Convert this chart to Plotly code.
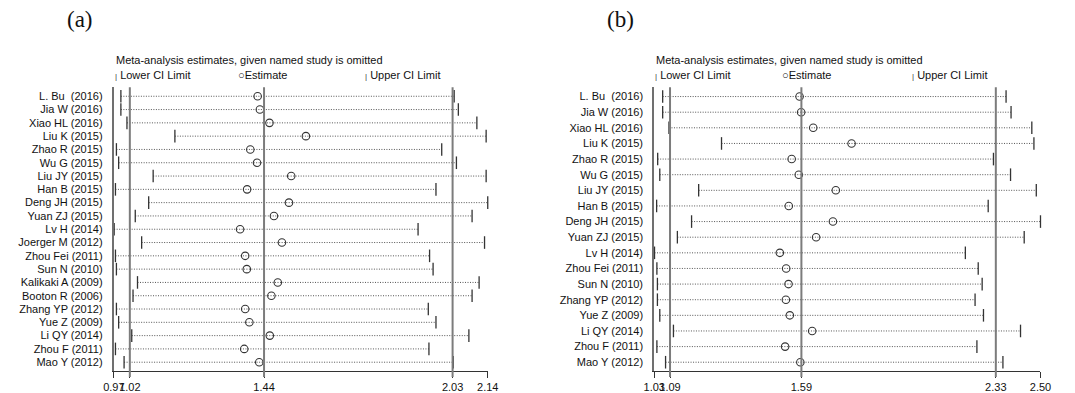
import plotly.graph_objects as go

# ---------------- data: panel (a) ----------------
studies_a = ["L. Bu  (2016)", "Jia W (2016)", "Xiao HL (2016)", "Liu K (2015)", "Zhao R (2015)",
             "Wu G (2015)", "Liu JY (2015)", "Han B (2015)", "Deng JH (2015)", "Yuan ZJ (2015)",
             "Lv H (2014)", "Joerger M (2012)", "Zhou Fei (2011)", "Sun N (2010)", "Kalikaki A (2009)",
             "Booton R (2006)", "Zhang YP (2012)", "Yue Z (2009)", "Li QY (2014)", "Zhou F (2011)",
             "Mao Y (2012)"]
lower_a = [0.992, 0.992, 1.011, 1.161, 0.978, 0.985, 1.093, 0.975, 1.079, 1.037,
           0.971, 1.057, 0.975, 0.978, 1.044, 1.030, 0.978, 0.985, 1.026, 0.975, 1.002]
est_a = [1.420, 1.427, 1.457, 1.571, 1.397, 1.418, 1.525, 1.387, 1.518, 1.471,
         1.365, 1.496, 1.381, 1.386, 1.483, 1.463, 1.381, 1.394, 1.458, 1.378, 1.425]
upper_a = [2.035, 2.048, 2.106, 2.135, 1.996, 2.042, 2.135, 1.978, 2.140, 2.091,
           1.922, 2.130, 1.958, 1.969, 2.113, 2.091, 1.954, 1.978, 2.081, 1.956, 2.032]
overall_a = [1.02, 1.44, 2.03]          # overall lower CI, estimate, upper CI
ticks_a = [0.97, 1.02, 1.44, 2.03, 2.14]
ticktext_a = ["0.97", "1.02", "1.44", "2.03", "2.14"]

# ---------------- data: panel (b) ----------------
studies_b = ["L. Bu  (2016)", "Jia W (2016)", "Xiao HL (2016)", "Liu K (2015)", "Zhao R (2015)",
             "Wu G (2015)", "Liu JY (2015)", "Han B (2015)", "Deng JH (2015)", "Yuan ZJ (2015)",
             "Lv H (2014)", "Zhou Fei (2011)", "Sun N (2010)", "Zhang YP (2012)", "Yue Z (2009)",
             "Li QY (2014)", "Zhou F (2011)", "Mao Y (2012)"]
lower_b = [1.062, 1.062, 1.086, 1.286, 1.043, 1.051, 1.199, 1.039, 1.172, 1.118,
           1.031, 1.040, 1.042, 1.042, 1.051, 1.103, 1.040, 1.073]
est_b = [1.583, 1.589, 1.635, 1.781, 1.553, 1.580, 1.721, 1.542, 1.710, 1.646,
         1.508, 1.532, 1.541, 1.531, 1.546, 1.631, 1.528, 1.586]
upper_b = [2.369, 2.388, 2.467, 2.475, 2.321, 2.386, 2.484, 2.301, 2.500, 2.438,
           2.214, 2.263, 2.278, 2.251, 2.283, 2.424, 2.258, 2.357]
overall_b = [1.09, 1.59, 2.33]
ticks_b = [1.03, 1.09, 1.59, 2.33, 2.50]
ticktext_b = ["1.03", "1.09", "1.59", "2.33", "2.50"]

W, H = 1075, 393
FONT = "Liberation Sans, Arial, sans-serif"
DOT = "#555555"
REF = "#7c7c7c"
INK = "#333333"


def px(x):
    return x / W


def py(y):
    return (H - y) / H


fig = go.Figure()


def add_panel(names, lo, est, hi, xa, ya):
    n = len(names)
    idx = list(range(n))
    segx, segy = [], []
    for i in idx:
        segx += [lo[i], hi[i], None]
        segy += [i, i, None]
    fig.add_trace(go.Scatter(x=segx, y=segy, mode="lines", xaxis=xa, yaxis=ya,
                             line=dict(color=DOT, width=1, dash="1px,1.5px"),
                             hoverinfo="skip", showlegend=False, cliponaxis=False))
    for vals in (lo, hi):
        fig.add_trace(go.Scatter(x=vals, y=idx, mode="markers", xaxis=xa, yaxis=ya,
                                 marker=dict(symbol="line-ns", size=9, color=INK,
                                             line=dict(color=INK, width=1.3)),
                                 showlegend=False, cliponaxis=False))
    fig.add_trace(go.Scatter(x=est, y=idx, mode="markers", xaxis=xa, yaxis=ya,
                             marker=dict(symbol="circle-open", size=7.5, color=INK,
                                         line=dict(color=INK, width=1.1)),
                             showlegend=False, cliponaxis=False))


add_panel(studies_a, lower_a, est_a, upper_a, "x", "y")
add_panel(studies_b, lower_b, est_b, upper_b, "x2", "y2")

ydom = [py(374), py(88)]
na, nb = len(studies_a), len(studies_b)
sa = (365 - 97) / (na - 1)
sb = (365 - 97.3) / (nb - 1)

xcommon = dict(showgrid=False, zeroline=False, showline=True, linecolor=INK, linewidth=1.4,
               ticks="outside", ticklen=6, tickwidth=1.4, tickcolor=INK, tickangle=0,
               ticklabelstandoff=-1,
               tickfont=dict(family=FONT, size=11, color="#111111"), tickmode="array")
ycommon = dict(showgrid=False, zeroline=False, showline=True, linecolor="#707070", linewidth=2,
               ticks="", tickmode="array", ticklabelstandoff=7,
               tickfont=dict(family=FONT, size=11, color="#111111"), domain=ydom)

fig.update_layout(
    width=W, height=H, margin=dict(l=0, r=0, t=0, b=0), autosize=False,
    paper_bgcolor="white", plot_bgcolor="white", showlegend=False,
    xaxis=dict(domain=[px(105), px(486.7)], range=[ticks_a[0], ticks_a[-1]], anchor="y",
               tickvals=ticks_a, ticktext=ticktext_a, **xcommon),
    xaxis2=dict(domain=[px(656.7), px(1051)], range=[ticks_b[0], ticks_b[-1]], anchor="y2",
                tickvals=ticks_b, ticktext=ticktext_b, **xcommon),
    yaxis=dict(range=[(374 - 97) / sa, (88 - 97) / sa], anchor="x",
               tickvals=list(range(na)), ticktext=studies_a, **ycommon),
    yaxis2=dict(range=[(374 - 97.3) / sb, (88 - 97.3) / sb], anchor="x2",
                tickvals=list(range(nb)), ticktext=studies_b, **ycommon),
)

shapes = []
for xr, vals in (("x", overall_a), ("x2", overall_b)):
    for v in vals:
        shapes.append(dict(type="line", xref=xr, yref="paper", x0=v, x1=v,
                           y0=py(380), y1=py(88), line=dict(color=REF, width=2)))
fig.update_layout(shapes=shapes)

ann = []


def header(label, lx, x0, xest, xup):
    ann.append(dict(text=label, x=px(lx), y=py(20), xref="paper", yref="paper", showarrow=False,
                    xanchor="center", yanchor="middle",
                    font=dict(family="Liberation Serif, Times New Roman, serif", size=23, color="#111")))
    ann.append(dict(text="Meta-analysis estimates, given named study is omitted", x=px(x0 + 1), y=py(60),
                    xref="paper", yref="paper", showarrow=False, xanchor="left", yanchor="middle",
                    font=dict(family=FONT, size=11, color="#111")))
    for t, xx in (("<span style='font-size:8px;color:#333'>|</span> Lower CI Limit", x0),
                  ("○Estimate", xest),
                  ("<span style='font-size:8px;color:#333'>|</span> Upper CI Limit", xup)):
        ann.append(dict(text=t, x=px(xx), y=py(75.5), xref="paper", yref="paper", showarrow=False,
                        xanchor="left", yanchor="middle", font=dict(family=FONT, size=11, color="#111")))


header("(a)", 70, 104, 230, 359)
header("(b)", 622, 655, 785, 918)
fig.update_layout(annotations=ann)

fig.write_html("out.html", config={"displayModeBar": False},
               post_script="document.body.style.margin='0';document.body.style.overflow='hidden';")
